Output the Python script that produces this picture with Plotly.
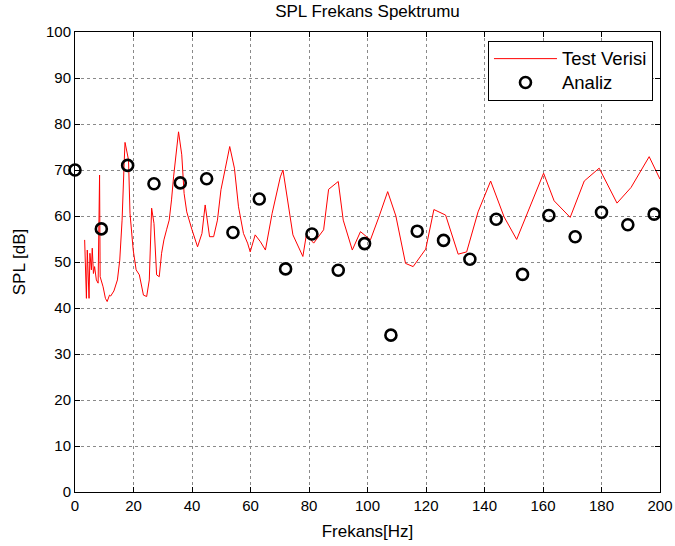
import plotly.graph_objects as go

# Test data (red line)
test_freq = [3.3, 3.9, 4.2, 4.8, 5.1, 5.6, 5.9, 6.3, 6.7, 7.3, 7.9, 8.4, 8.6, 9.6, 10.4, 11.0,
             11.8, 12.2, 13.3, 13.8, 14.5, 15.3, 16.1, 16.8, 17.1, 18.3, 18.8, 19.9, 20.9, 22.0,
             23.4, 24.5, 25.4, 26.2, 27.0, 27.9, 28.8, 29.6, 30.4, 31.3, 32.2, 33.0, 33.7, 35.4,
             36.5, 37.3, 38.2, 40.0, 41.9, 43.4, 44.5, 46.0, 47.4, 48.7, 49.9, 51.4, 52.9, 54.5,
             55.9, 57.6, 59.0, 59.9, 61.6, 63.4, 65.1, 67.4, 70.2, 71.1, 72.5, 74.5, 77.9, 79.1,
             81.6, 85.0, 86.7, 90.0, 91.7, 94.8, 97.6, 101.0, 103.9, 106.9, 109.7, 113.0, 115.6,
             119.9, 122.7, 126.7, 131.0, 133.9, 137.8, 142.1, 146.7, 151.0, 160.2, 163.8, 169.3,
             174.1, 179.2, 185.3, 190.1, 196.3, 200.0]
test_spl = [54.8, 42.1, 52.6, 42.1, 51.9, 48.3, 53.0, 47.5, 49.0, 46.1, 45.4, 68.9, 46.8, 44.6,
            42.1, 41.4, 42.8, 42.6, 43.7, 44.6, 46.1, 50.4, 59.1, 71.4, 76.0, 72.2, 60.6, 52.6,
            48.3, 47.2, 42.8, 42.5, 46.1, 61.7, 58.4, 47.2, 46.8, 51.9, 54.8, 57.0, 59.1, 63.5,
            68.5, 78.3, 73.3, 64.9, 60.9, 57.0, 53.3, 56.2, 62.4, 55.5, 55.5, 59.1, 65.7, 70.4,
            75.1, 70.4, 62.0, 56.2, 54.1, 52.2, 55.9, 54.4, 52.6, 60.6, 68.5, 70.0, 64.2, 55.9,
            51.2, 55.9, 54.1, 57.0, 65.8, 67.5, 59.1, 52.6, 56.6, 54.8, 59.8, 65.3, 60.0, 49.7,
            49.0, 52.8, 61.4, 60.2, 51.7, 52.2, 60.9, 67.6, 59.8, 54.9, 69.3, 63.3, 59.7, 67.6,
            70.4, 62.8, 66.2, 72.9, 68.0]

# Analysis (black circles)
analiz_freq = [0, 9, 18, 27, 36, 45, 54, 63, 72, 81, 90, 99, 108, 117, 126, 135, 144, 153,
               162, 171, 180, 189, 198]
analiz_spl = [70.0, 57.2, 71.0, 67.0, 67.2, 68.1, 56.4, 63.7, 48.5, 56.1, 48.2, 54.0, 34.1,
              56.7, 54.7, 50.6, 59.3, 47.3, 60.1, 55.5, 60.8, 58.1, 60.4]

x_ticks = [0, 20, 40, 60, 80, 100, 120, 140, 160, 180, 200]
y_ticks = [0, 10, 20, 30, 40, 50, 60, 70, 80, 90, 100]

FONT = "Liberation Sans, Arial, Helvetica, sans-serif"

fig = go.Figure()
fig.add_trace(go.Scatter(x=test_freq, y=test_spl, mode="lines",
                         name="<span style='font-size:18.5px'>Test Verisi</span>",
                         line=dict(color="#ff0000", width=1)))
fig.add_trace(go.Scatter(x=analiz_freq, y=analiz_spl, mode="markers",
                         name="<span style='font-size:18.5px'>Analiz</span>",
                         cliponaxis=False,
                         marker=dict(symbol="circle-open", size=11, color="black",
                                     line=dict(color="black", width=2.6))))

axis_common = dict(showline=True, linecolor="black", linewidth=1, mirror="allticks",
                   ticks="inside", ticklen=5, tickcolor="black", automargin=False,
                   showgrid=True, gridcolor="#8a8a8a", griddash="dot", gridwidth=1,
                   zeroline=False, tickfont=dict(family=FONT, size=15, color="black"))

fig.update_xaxes(range=[0, 200], tickvals=x_ticks, ticktext=[str(v) for v in x_ticks],
                 title=dict(text="Frekans[Hz]", font=dict(family=FONT, size=17, color="black"),
                            standoff=12),
                 **axis_common)
fig.update_yaxes(range=[0, 100], tickvals=y_ticks, ticktext=[str(v) for v in y_ticks],
                 title=dict(text="SPL [dB]", font=dict(family=FONT, size=17, color="black"),
                            standoff=16),
                 **axis_common)

fig.update_layout(
    width=675, height=546,
    margin=dict(l=75, r=15, t=32, b=54),
    paper_bgcolor="white", plot_bgcolor="white",
    title=dict(text="SPL Frekans Spektrumu", x=0.5444, xanchor="center", y=0.98, yanchor="middle",
               font=dict(family=FONT, size=17, color="black")),
    font=dict(family=FONT, size=15, color="black"),
    legend=dict(x=0.988, xanchor="right", y=0.981, yanchor="top",
                bgcolor="white", bordercolor="black", borderwidth=1,
                font=dict(family=FONT, size=16, color="black"),
                itemwidth=63, tracegroupgap=0),
    showlegend=True,
)

fig.write_html("out.html", config={"displayModeBar": False},
               post_script="document.body.style.margin='0';")
